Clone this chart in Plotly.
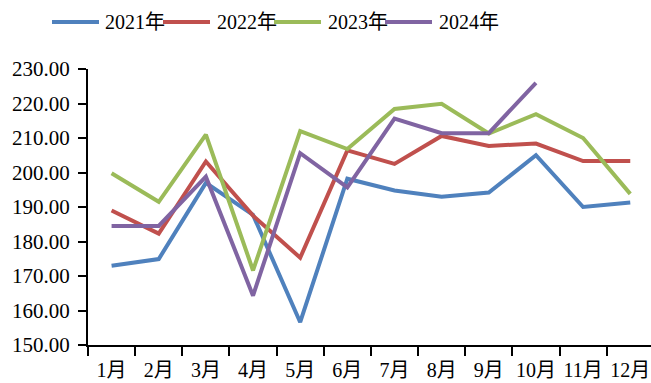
import plotly.graph_objects as go

months = ["1月", "2月", "3月", "4月", "5月", "6月", "7月", "8月", "9月", "10月", "11月", "12月"]

y2021 = [173.0, 174.9, 197.0, 187.7, 156.6, 198.2, 194.8, 193.0, 194.2, 205.0, 190.0, 191.3]
y2022 = [189.0, 182.3, 203.2, 187.5, 175.3, 206.4, 202.5, 210.6, 207.7, 208.4, 203.3, 203.3]
y2023 = [199.8, 191.5, 211.0, 171.6, 212.0, 206.8, 218.4, 219.9, 211.3, 216.9, 210.0, 193.8]
y2024 = [184.5, 184.5, 198.8, 164.3, 205.6, 195.7, 215.6, 211.4, 211.4, 226.0]

series = [
    ("2021年", y2021, "#4F81BD"),
    ("2022年", y2022, "#C0504D"),
    ("2023年", y2023, "#9BBB59"),
    ("2024年", y2024, "#8064A2"),
]

FONT = "Liberation Serif, Times New Roman, Noto Sans CJK SC, serif"

fig = go.Figure()
for name, vals, color in series:
    fig.add_trace(go.Scatter(
        x=months[:len(vals)], y=vals, name=name, mode="lines",
        line=dict(color=color, width=4), showlegend=False,
    ))

# plot-area geometry (pixels) used to place the legend row above the axes
L, R, T, B = 88, 651, 69, 345
W, H = R - L, B - T

def px_x(px):
    return (px - L) / W

def px_y(py):
    return (B - py) / H

legend_items = [(52, 99, 103), (163, 210, 215), (274, 321, 326), (385, 432, 437)]
shapes, annotations = [], []
for (x0, x1, tx), (name, _, color) in zip(legend_items, series):
    shapes.append(dict(type="line", xref="paper", yref="paper",
                       x0=px_x(x0), x1=px_x(x1), y0=px_y(22), y1=px_y(22),
                       line=dict(color=color, width=4)))
    annotations.append(dict(text=name, xref="paper", yref="paper",
                            x=px_x(tx), y=px_y(22), xanchor="left", yanchor="middle",
                            showarrow=False, font=dict(family=FONT, size=20, color="#000")))

fig.update_layout(
    width=651, height=383,
    margin=dict(l=L, r=651 - R, t=T, b=383 - B),
    paper_bgcolor="white", plot_bgcolor="white",
    font=dict(family=FONT, size=20, color="#000"),
    shapes=shapes, annotations=annotations,
)
fig.update_xaxes(
    type="category", range=[-0.5, 11.44], tickson="boundaries",
    showline=True, linecolor="#000", linewidth=2,
    ticks="outside", ticklen=9, tickwidth=2, tickcolor="#000",
    showgrid=False, zeroline=False, tickangle=0, ticklabelstandoff=6,
    tickfont=dict(family=FONT, size=20, color="#000"),
)
fig.update_yaxes(
    range=[150, 230], dtick=10, tickformat=".2f",
    showline=True, linecolor="#000", linewidth=2,
    ticks="outside", ticklen=8, tickwidth=2, tickcolor="#000",
    showgrid=False, zeroline=False, ticklabelstandoff=4,
    tickfont=dict(family=FONT, size=21, color="#000"),
)

fig.write_html("out.html")
